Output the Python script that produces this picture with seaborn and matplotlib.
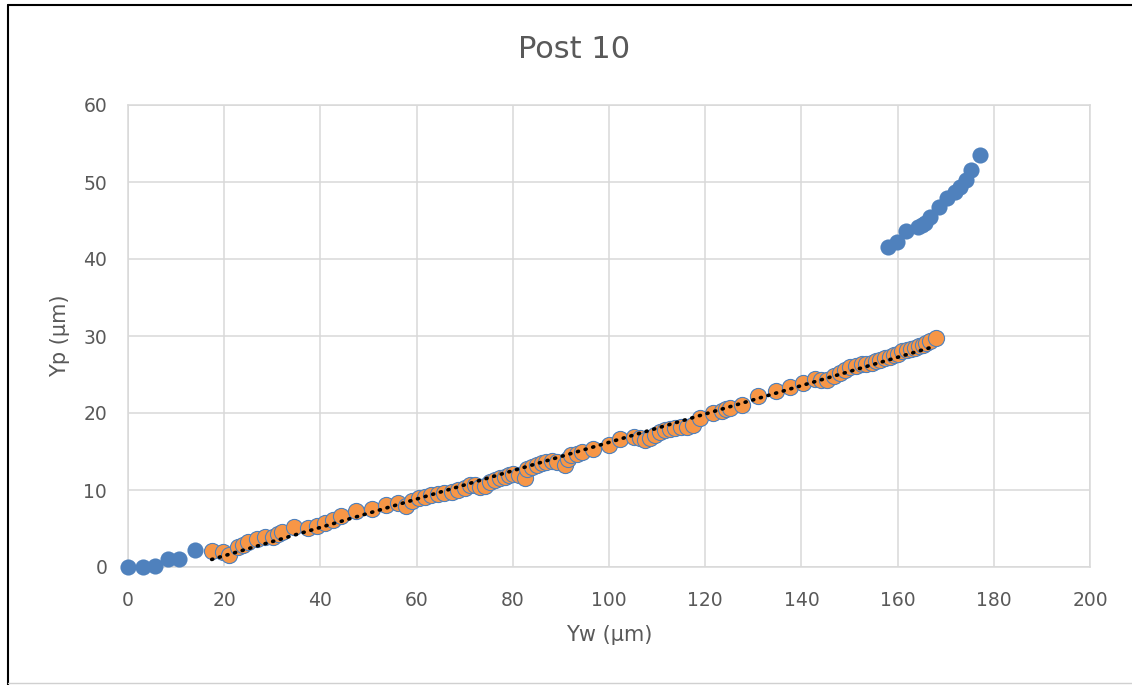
import matplotlib
matplotlib.use("Agg")
import matplotlib.pyplot as plt
from matplotlib.lines import Line2D
import numpy as np
import pandas as pd
import seaborn as sns

# Wall deflection Yw vs post deflection Yp (µm)
low_x = [0, 3.2, 5.6, 8.4, 10.6, 13.9]
low_y = [0, 0, 0.13, 1.0, 1.08, 2.2]

fit_x = [17.4, 19.8, 20.9, 22.9, 24.0, 25.0, 26.8, 28.5, 30.2, 31.2, 32.0, 34.5,
         37.5, 39.2, 41.0, 42.7, 44.3, 47.3, 50.7, 53.6, 56.1, 57.8, 59.0, 60.5,
         61.7, 63.0, 64.5, 65.8, 67.3, 68.7, 70.1, 71.0, 72.1, 73.2, 74.2, 75.3,
         76.3, 77.4, 78.4, 79.3, 80.1, 81.2, 82.5, 83.0, 83.9, 85.0, 86.0, 87.0,
         88.1, 89.2, 90.9, 91.5, 92.2, 93.3, 94.3, 96.7, 99.9, 102.3, 105.1, 106.5,
         107.5, 108.6, 109.6, 110.6, 111.6, 112.7, 113.7, 115.0, 116.2, 117.5, 118.9,
         121.7, 123.4, 124.3, 125.2, 127.6, 130.9, 134.7, 137.6, 140.4, 142.8, 144.0,
         145.3, 146.7, 148.0, 149.0, 150.1, 151.3, 152.5, 153.5, 154.6, 155.5, 156.3,
         157.4, 158.4, 159.2, 160.1, 161.0, 161.9, 162.8, 163.6, 164.5, 165.3, 166.0,
         166.7, 167.9]
fit_y = [2.08, 2.0, 1.6, 2.6, 2.9, 3.2, 3.6, 3.9, 3.9, 4.3, 4.6, 5.2,
         5.1, 5.3, 5.7, 6.1, 6.6, 7.3, 7.5, 8.1, 8.3, 7.9, 8.6, 8.9,
         9.1, 9.3, 9.5, 9.6, 9.7, 10.0, 10.2, 10.6, 10.6, 10.4, 10.5, 11.1,
         11.3, 11.6, 11.7, 12.0, 12.1, 12.0, 11.6, 12.7, 13.0, 13.2, 13.5, 13.7,
         13.8, 13.6, 13.3, 14.0, 14.5, 14.7, 14.9, 15.3, 15.8, 16.6, 16.9, 16.8,
         16.5, 16.8, 17.1, 17.5, 17.8, 17.9, 18.0, 18.2, 18.2, 18.4, 19.3,
         20.0, 20.2, 20.5, 20.7, 21.0, 22.2, 22.9, 23.4, 23.9, 24.4, 24.3,
         24.3, 24.8, 25.2, 25.6, 26.0, 26.1, 26.4, 26.3, 26.5, 26.8, 26.9,
         27.1, 27.3, 27.5, 27.7, 28.0, 28.2, 28.3, 28.4, 28.7, 28.8, 29.1,
         29.3, 29.7]

high_x = [158.1, 159.9, 161.7, 164.3, 165.0, 165.7, 166.7, 168.7, 170.3, 171.9,
          173.0, 174.2, 175.3, 177.1]
high_y = [41.6, 42.2, 43.6, 44.2, 44.4, 44.7, 45.5, 46.7, 47.9, 48.7,
          49.4, 50.3, 51.6, 53.5]

x_ticks = [0, 20, 40, 60, 80, 100, 120, 140, 160, 180, 200]
y_ticks = [0, 10, 20, 30, 40, 50, 60]

all_df = pd.DataFrame({"Yw": low_x + fit_x + high_x, "Yp": low_y + fit_y + high_y})
fit_df = pd.DataFrame({"Yw": fit_x, "Yp": fit_y})

BLUE = "#4F81BD"
ORANGE = "#F79646"
TEXT = "#595959"
GRID = "#D9D9D9"

sns.set_style("white")
plt.rcParams["font.family"] = ["DejaVu Sans"]

fig = plt.figure(figsize=(11.32, 6.85), dpi=100)
ax = fig.add_axes([128 / 1132, 1 - 567 / 685, 962 / 1132, 462 / 685])

sns.scatterplot(data=all_df, x="Yw", y="Yp", ax=ax, color=BLUE, s=135,
                linewidth=0, clip_on=False, zorder=3, legend=False)
sns.scatterplot(data=fit_df, x="Yw", y="Yp", ax=ax, color=ORANGE, s=135,
                edgecolor=BLUE, linewidth=0.8, clip_on=False, zorder=4, legend=False)
# linear trendline through the orange (linear-range) points, round-dot style
sns.regplot(data=fit_df, x="Yw", y="Yp", ax=ax, scatter=False, ci=None, truncate=True,
            line_kws={"color": "black", "linewidth": 2.6,
                      "linestyle": (0, (0.3, 1.9)), "dash_capstyle": "round",
                      "zorder": 6})

ax.set_xlim(0, 200)
ax.set_ylim(0, 60)
ax.set_xticks(x_ticks)
ax.set_yticks(y_ticks)
ax.grid(True, color=GRID, linewidth=1.1)
ax.set_axisbelow(True)
for sp in ax.spines.values():
    sp.set_visible(True)
    sp.set_color(GRID)
    sp.set_linewidth(1.1)
ax.tick_params(axis="both", length=0, labelsize=13.5, labelcolor=TEXT)
ax.tick_params(axis="x", pad=17)
ax.tick_params(axis="y", pad=15)

ax.set_xlabel("Yw (µm)", fontsize=15, color=TEXT, va="center")
ax.set_ylabel("Yp (µm)", fontsize=15, color=TEXT, va="center")
ax.xaxis.set_label_coords(0.5, (567 - 635) / 462)
ax.yaxis.set_label_coords((60 - 128) / 962, 0.5)

fig.text(574 / 1132, 1 - 50 / 685, "Post 10", ha="center", va="center",
         fontsize=22, color=TEXT)

# chart frame edges
fig.add_artist(Line2D([8 / 1132, 8 / 1132], [0, 1 - 5 / 685], transform=fig.transFigure,
                      color="black", linewidth=1.5))
fig.add_artist(Line2D([8 / 1132, 1], [1 - 5 / 685, 1 - 5 / 685], transform=fig.transFigure,
                      color="black", linewidth=1.5))
fig.add_artist(Line2D([8 / 1132, 1], [2 / 685, 2 / 685], transform=fig.transFigure,
                      color="#D0D0D0", linewidth=1.0))

fig.savefig("out.png", dpi=100, facecolor="white")
